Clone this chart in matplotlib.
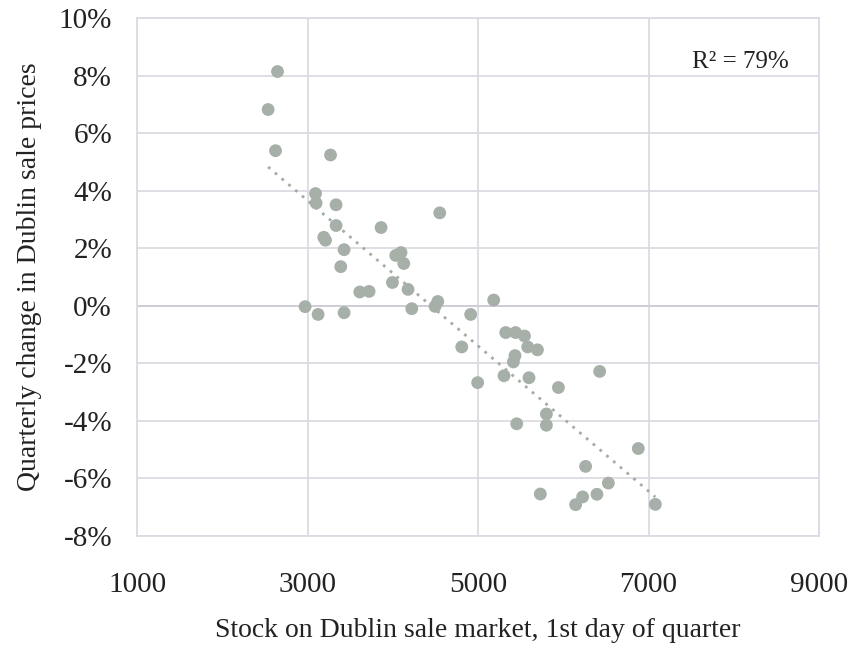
import numpy as np
import matplotlib
matplotlib.use("Agg")
import matplotlib.pyplot as plt
from matplotlib.ticker import FuncFormatter

plt.rcParams["font.family"] = ["Liberation Serif", "DejaVu Serif"]

# stock on market (x) vs quarterly price change in % (y)
stock = [2648, 2538, 2625, 3270, 3094, 3101, 3335, 3335, 4551, 3863,
         3191, 3211, 3429, 4035, 4097, 4129, 3390, 3613, 3722, 3996,
         4179, 4496, 4528, 5184, 2972, 3124, 3429, 4223, 4914, 5325,
         5440, 5545, 4809, 5583, 5697, 5434, 5415, 4996, 5305, 5598,
         5943, 6427, 5802, 5802, 5454, 6880, 6262, 5731, 6227, 6145,
         6395, 6529, 7080]
price_change = [8.14, 6.82, 5.39, 5.24, 3.90, 3.57, 3.51, 2.79, 3.23, 2.72,
                2.38, 2.28, 1.95, 1.75, 1.85, 1.47, 1.36, 0.48, 0.50, 0.81,
                0.57, -0.02, 0.15, 0.20, -0.03, -0.30, -0.24, -0.10, -0.30, -0.93,
                -0.93, -1.05, -1.43, -1.43, -1.53, -1.73, -1.95, -2.67, -2.43, -2.50,
                -2.84, -2.28, -3.76, -4.15, -4.10, -4.96, -5.58, -6.54, -6.64, -6.91,
                -6.55, -6.16, -6.90]
r2_label = "R² = 79%"

x = np.array(stock)
y = np.array(price_change)

fig = plt.figure(figsize=(8.52, 6.48), dpi=100)
ax = fig.add_axes([0.1608, 0.1728, 0.8005, 0.7994])

grid_col = "#dcdbe3"
ax.set_xlim(1000, 9000)
ax.set_ylim(-8, 10)
ax.set_xticks([1000, 3000, 5000, 7000, 9000])
ax.set_yticks(np.arange(-8, 11, 2))
ax.yaxis.set_major_formatter(FuncFormatter(lambda v, p: f"{v:.0f}%"))
ax.grid(True, color=grid_col, linewidth=1.3)
ax.axhline(0, color="#cfcdd8", linewidth=1.4, zorder=1)
ax.set_axisbelow(True)
for s in ax.spines.values():
    s.set_color(grid_col)
    s.set_linewidth(1.3)
ax.tick_params(length=0, labelsize=21, colors="#222222")
ax.tick_params(axis="x", pad=26)
ax.tick_params(axis="y", pad=18)

ax.scatter(x, y, s=85, color="#a6afa8", edgecolors="none", zorder=3)

# linear trendline over the data range
m, b = np.polyfit(x, y, 1)
xs = np.array([x.min(), x.max()])
ax.plot(xs, m * xs + b, linestyle=(0, (1, 2.2)), color="#a3aca5",
        linewidth=2, zorder=2)

ax.text(0.955, 0.915, r2_label, transform=ax.transAxes, ha="right",
        va="center", fontsize=18, color="#222222")

ax.set_xlabel("Stock on Dublin sale market, 1st day of quarter",
              fontsize=20, labelpad=14, color="#222222")
ax.set_ylabel("Quarterly change in Dublin sale prices", fontsize=20,
              labelpad=12, color="#222222")

fig.savefig("out.png", dpi=100)
